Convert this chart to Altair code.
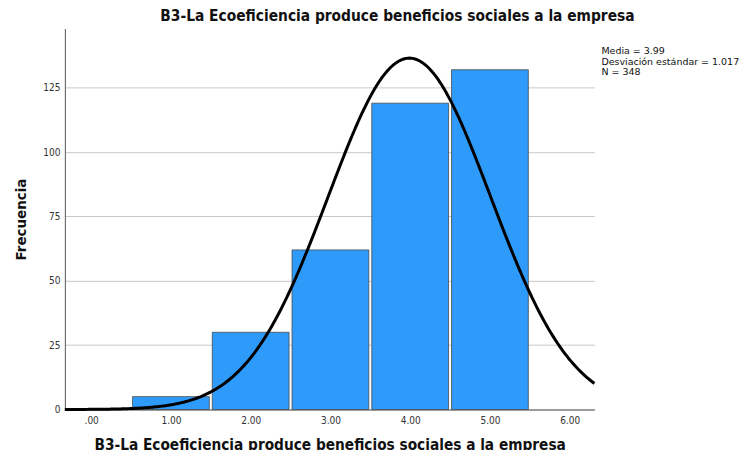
import altair as alt
import pandas as pd

values = [1, 2, 3, 4, 5]
counts = [5, 30, 62, 119, 132]
mean_v = 3.99
sd_v = 1.017
n_v = 348
x_ticks = [0, 1, 2, 3, 4, 5, 6]
y_ticks = [0, 25, 50, 75, 100, 125]
title_txt = "B3-La Ecoeficiencia produce beneficios sociales a la empresa"
stats_lines = ["Media = 3.99", "Desviación estándar = 1.017", "N = 348"]

df = pd.DataFrame({"v": values, "c": counts})
FONT = "DejaVu Sans Condensed"
XDOM = [-0.33, 6.31]
YDOM = [0, 148]

xscale = alt.Scale(domain=XDOM, nice=False, zero=False, padding=0)
yscale = alt.Scale(domain=YDOM, nice=False)

bars = alt.Chart(df).mark_bar(
    size=77, color="#2E9BFB", stroke="#4a4a4a", strokeWidth=0.8
).encode(
    x=alt.X("v:Q", scale=xscale,
            axis=alt.Axis(values=x_ticks, labelExpr="datum.value == 0 ? '.00' : format(datum.value, '.2f')",
                          grid=False, ticks=False, domainColor="#555555",
                          labelFont=FONT, labelFontSize=10, labelColor="#333333", labelPadding=6,
                          title=title_txt, titleFont=FONT, titleFontSize=15.3, titleFontWeight="bold",
                          titlePadding=12, titleColor="#111111")),
    y=alt.Y("c:Q", scale=yscale,
            axis=alt.Axis(values=y_ticks, grid=True, gridColor="#c8c8c8", ticks=False,
                          domainColor="#555555", labelFont=FONT, labelFontSize=10, labelColor="#333333",
                          labelPadding=5,
                          title="Frecuencia", titleFont=FONT, titleFontSize=15, titleFontWeight="bold",
                          titlePadding=14, titleColor="#111111")),
)

seq = alt.sequence(XDOM[0], XDOM[1] + 0.001, 0.02, as_="x")
curve = alt.Chart(seq).transform_calculate(
    y=f"{n_v} / ({sd_v} * sqrt(2 * PI)) * exp(-0.5 * pow((datum.x - {mean_v}) / {sd_v}, 2))"
).mark_line(color="black", strokeWidth=3).encode(
    x=alt.X("x:Q", scale=xscale),
    y=alt.Y("y:Q", scale=yscale),
)

stats = alt.Chart(df).mark_text(
    align="left", baseline="top", font="DejaVu Sans", fontSize=9.5, lineHeight=10.5, color="#111111"
).encode(
    x=alt.value(538), y=alt.value(18), text=alt.value(stats_lines)
).transform_filter("datum.v == 1")

chart = alt.layer(bars, curve, stats).properties(
    width=531, height=382,
    title=alt.TitleParams(title_txt, font=FONT, fontSize=15.4, fontWeight="bold", color="#111111",
                          anchor="middle", dx=68, offset=4),
    autosize=alt.AutoSizeParams(type="none"),
    padding={"left": 57, "top": 20, "right": 150, "bottom": 40},
).configure_view(stroke=None)

chart.save("out.html", embed_options={"renderer": "svg", "actions": False})
